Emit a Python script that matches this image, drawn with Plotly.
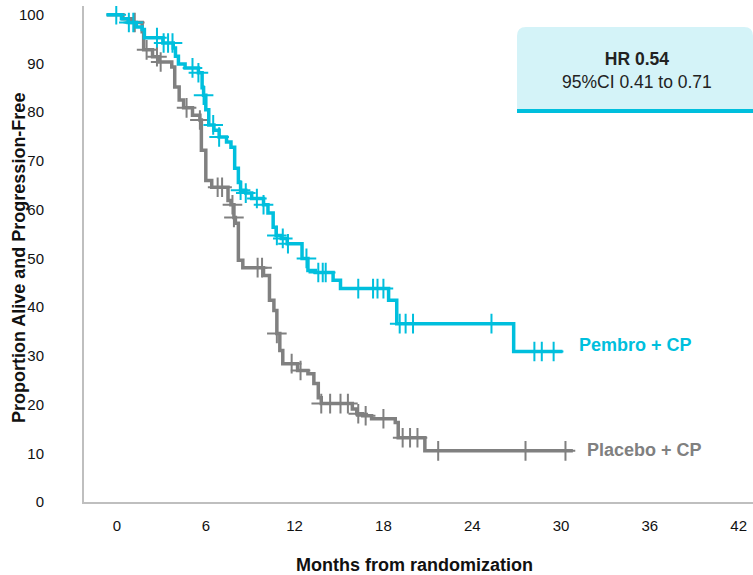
import plotly.graph_objects as go

# ---- data ----
pembro_t = [-0.7, 0.3, 0.75, 1.3, 1.7, 1.85, 3.1, 3.8, 3.95, 4.15, 4.6, 5.5, 5.75, 5.85,
            6.0, 6.2, 6.55, 6.9, 7.4, 7.7, 7.95, 8.2, 8.35, 8.7, 9.1, 9.9, 10.2, 10.55,
            10.75, 11.1, 11.5, 12.5, 12.9, 13.4, 14.6, 15.1, 18.35, 18.9, 26.8, 30.1]
pembro_s = [100, 99.2, 98.4, 97.5, 97.0, 95.3, 94.2, 93.2, 91.5, 89.9, 89.1, 88.1, 85.0, 83.5,
            80.5, 77.4, 76.3, 74.9, 73.9, 72.8, 68.5, 65.6, 64.0, 63.4, 62.3, 61.0, 59.3, 56.4,
            54.7, 54.1, 53.0, 50.0, 47.5, 47.1, 45.5, 43.8, 41.4, 36.6, 30.9, 30.9]
pembro_cens_t = [-0.05, 0.8, 1.1, 2.7, 3.15, 3.45, 3.75, 5.1, 5.5, 5.85, 6.5, 6.9, 8.35, 8.7,
                 9.45, 9.9, 10.8, 11.2, 11.55, 12.8, 13.6, 13.9, 14.1, 16.3, 17.3, 17.6, 18.0,
                 19.1, 19.5, 20.0, 25.3, 28.2, 28.7, 29.5]
pembro_cens_s = [100, 98.4, 98.4, 95.3, 94.2, 94.2, 94.2, 89.1, 88.1, 83.5, 77.4, 74.9, 64.0, 63.4,
                 62.3, 61.0, 54.7, 54.1, 53.0, 50.0, 47.1, 47.1, 47.1, 43.8, 43.8, 43.8, 43.8,
                 36.6, 36.6, 36.6, 36.6, 30.9, 30.9, 30.9]

placebo_t = [-0.7, 0.4, 1.0, 1.7, 1.8, 2.4, 2.8, 3.7, 3.9, 4.2, 4.5, 5.1, 5.6, 5.7, 6.0, 6.4,
             7.5, 7.7, 7.9, 8.0, 8.2, 8.5, 9.9, 10.3, 10.6, 10.8, 11.0, 11.2, 12.2, 12.9, 13.3,
             13.6, 13.8, 15.9, 16.2, 16.6, 17.2, 18.8, 19.0, 20.8, 30.8]
placebo_s = [100, 99.2, 98.4, 96.5, 92.8, 91.4, 90.3, 89.3, 85.2, 82.5, 80.9, 79.4, 78.4, 72.2,
             66.0, 64.6, 61.9, 61.0, 58.4, 57.2, 49.6, 48.1, 46.5, 41.4, 39.3, 34.6, 31.1, 28.4,
             27.0, 26.3, 24.3, 21.4, 20.2, 19.1, 18.1, 17.7, 17.1, 16.3, 13.2, 10.5, 10.5]
placebo_cens_t = [1.2, 2.0, 2.7, 2.95, 4.7, 5.6, 6.8, 7.1, 7.8, 7.9, 9.5, 9.8, 10.8, 11.8, 12.4,
                  13.8, 14.4, 15.1, 15.6, 16.3, 16.8, 18.0, 19.3, 19.8, 20.3, 21.7, 27.6, 30.3]
placebo_cens_s = [98.4, 92.8, 91.4, 90.3, 80.9, 78.4, 64.6, 64.6, 61.0, 58.4, 48.1, 48.1, 34.6,
                  28.4, 27.0, 20.2, 20.2, 20.2, 20.2, 18.1, 17.7, 17.1, 13.2, 13.2, 13.2, 10.5,
                  10.5, 10.5]

x_ticks = [0, 6, 12, 18, 24, 30, 36, 42]
y_ticks = [0, 10, 20, 30, 40, 50, 60, 70, 80, 90, 100]

series_names = ["Pembro + CP", "Placebo + CP"]
hr_text = "<b>HR 0.54</b><br>95%CI 0.41 to 0.71"

CYAN = "#00BFDD"
GRAY = "#808080"
FONT = "Liberation Sans, Arial, sans-serif"

fig = go.Figure()

for t, s, ct, cs, col in [(placebo_t, placebo_s, placebo_cens_t, placebo_cens_s, GRAY),
                          (pembro_t, pembro_s, pembro_cens_t, pembro_cens_s, CYAN)]:
    fig.add_trace(go.Scatter(x=t, y=s, mode="lines", line=dict(color=col, width=3.5, shape="hv"),
                             showlegend=False, hoverinfo="skip"))
    fig.add_trace(go.Scatter(x=ct, y=cs, mode="markers",
                             marker=dict(symbol="cross-thin", size=14, color=col,
                                         line=dict(color=col, width=2)),
                             showlegend=False, hoverinfo="skip"))

# series labels
fig.add_annotation(x=31.1, y=32.3, xref="x", yref="y", text="<b>" + series_names[0] + "</b>",
                   showarrow=False, xanchor="left", yanchor="middle",
                   font=dict(family=FONT, size=18, color=CYAN))
fig.add_annotation(x=31.6, y=10.7, xref="x", yref="y", text="<b>" + series_names[1] + "</b>",
                   showarrow=False, xanchor="left", yanchor="middle",
                   font=dict(family=FONT, size=18, color=GRAY))

# HR box (paper coords)
W, H = 753, 575
ml, mr, mt, mb = 84, 0, 6, 73
pw, ph = W - ml - mr, H - mt - mb
def px(x):
    return (x - ml) / pw
def py(y):
    return (H - mb - y) / ph
x0, x1, ytop, ybot = px(517), px(753), py(27), py(110)
rx, ry = 9 / pw, 9 / ph
path = (f"M {x0},{ybot} L {x0},{ytop - ry} Q {x0},{ytop} {x0 + rx},{ytop} "
        f"L {x1 - rx},{ytop} Q {x1},{ytop} {x1},{ytop - ry} L {x1},{ybot} Z")
fig.add_shape(type="path", path=path, xref="paper", yref="paper",
              fillcolor="#D4F3F8", line=dict(width=0), layer="below")
fig.add_shape(type="line", xref="paper", yref="paper", x0=x0, x1=x1, y0=py(111), y1=py(111),
              line=dict(color=CYAN, width=4))
fig.add_annotation(x=px(637), y=py(70), xref="paper", yref="paper", text=hr_text,
                   showarrow=False, xanchor="center", yanchor="middle", align="center",
                   font=dict(family=FONT, size=17.5, color="#222222"))

# axis titles
fig.add_annotation(x=px(414), y=py(565), xref="paper", yref="paper",
                   text="<b>Months from randomization</b>", showarrow=False,
                   xanchor="center", yanchor="middle", font=dict(family=FONT, size=18, color="#111111"))
fig.add_annotation(x=px(19), y=py(258), xref="paper", yref="paper",
                   text="<b>Proportion Alive and Progression-Free</b>", showarrow=False,
                   textangle=-90, xanchor="center", yanchor="middle",
                   font=dict(family=FONT, size=18, color="#111111"))

fig.update_layout(
    width=W, height=H, margin=dict(l=ml, r=mr, t=mt, b=mb),
    paper_bgcolor="white", plot_bgcolor="white",
    font=dict(family=FONT, size=14, color="#111111"),
    xaxis=dict(range=[-2.23, 42.97], tickvals=x_ticks, ticktext=[str(v) for v in x_ticks],
               showgrid=False, zeroline=False, showline=True, linecolor="#BFBFBF", linewidth=2,
               ticks="", ticklabelstandoff=9, tickfont=dict(size=15)),
    yaxis=dict(range=[0, 101.8], tickvals=y_ticks, ticktext=[str(v) for v in y_ticks],
               showgrid=False, zeroline=False, showline=True, linecolor="#BFBFBF", linewidth=2,
               ticks="", ticklabelstandoff=35, tickfont=dict(size=15)),
)

fig.write_html("out.html")
